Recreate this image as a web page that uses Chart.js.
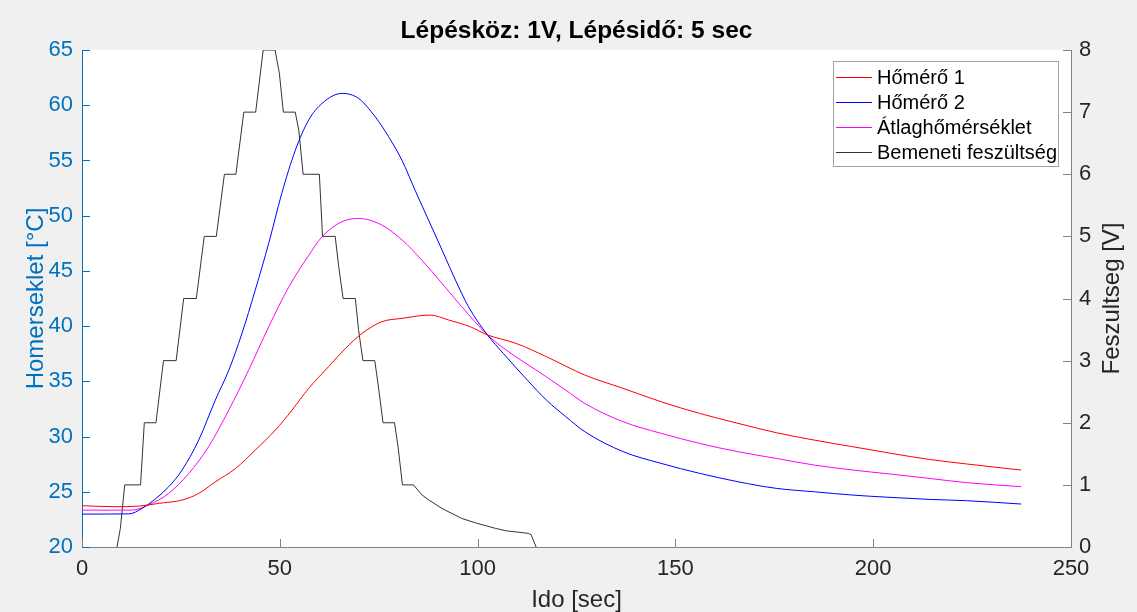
<!DOCTYPE html>
<html lang="hu">
<head>
    <meta charset="UTF-8">
    <title>Lépésköz: 1V, Lépésidő: 5 sec</title>
    <style>
        html, body { margin: 0; padding: 0; background: #f0f0f0; }
        canvas { display: block; }
    </style>
</head>
<body>
    <canvas id="myChart" width="1137" height="612"></canvas>
    <script src="https://cdn.jsdelivr.net/npm/chart.js"></script>
    <script>
        // feliratok
        const cim = 'Lépésköz: 1V, Lépésidő: 5 sec';
        const xCim = 'Ido [sec]';
        const yCim = 'Homerseklet [°C]';
        const y1Cim = 'Feszultseg [V]';

        // tengely osztasok
        const xTicks = [0, 50, 100, 150, 200, 250];
        const yTicks = [20, 25, 30, 35, 40, 45, 50, 55, 60, 65];
        const y1Ticks = [0, 1, 2, 3, 4, 5, 6, 7, 8];

        // Hőmérő 1 (piros)
        const idoH1 = [0, 8.4, 14.3, 19.4, 25.3, 29.5, 33.7, 38.8, 43.8, 48.9, 53.1, 57.3, 62.3, 66.6, 70.8, 75.8, 80.9, 88, 92.7, 98.1, 102.5, 109.7, 117.4, 127.1, 136.8, 146.4, 156.1, 165.8, 175.5, 185.1, 194.8, 204.5, 214.2, 223.8, 233.5, 237.4];
        const homero1 = [23.74, 23.65, 23.7, 23.95, 24.25, 24.85, 25.9, 27.1, 28.78, 30.59, 32.4, 34.36, 36.32, 37.98, 39.34, 40.4, 40.7, 41.0, 40.55, 39.95, 39.2, 38.44, 37.23, 35.57, 34.36, 33.15, 32.1, 31.2, 30.35, 29.68, 29.08, 28.48, 27.93, 27.51, 27.12, 26.97];

        // Hőmérő 2 (kek)
        const idoH2 = [0, 11.8, 15.2, 21.9, 25.3, 29.5, 33.7, 37.1, 40.4, 43.8, 47.2, 50.5, 53.9, 57.3, 60.7, 65.7, 69.9, 74.1, 77.5, 80.9, 84.2, 87.6, 91.0, 94.4, 97.7, 102.5, 106.5, 112.6, 117.4, 122.3, 127.1, 136.8, 146.4, 156.1, 165.8, 175.5, 185.1, 194.8, 204.5, 214.2, 223.8, 237.4];
        const homero2 = [22.98, 23.0, 23.5, 25.45, 26.97, 29.68, 33.3, 36.0, 39.3, 43.27, 47.5, 52.02, 55.9, 58.66, 60.17, 61.07, 60.62, 58.96, 57.15, 55.0, 52.3, 49.6, 46.9, 44.17, 41.75, 39.2, 37.53, 35.1, 33.3, 31.8, 30.44, 28.63, 27.57, 26.67, 25.91, 25.31, 25.0, 24.7, 24.49, 24.31, 24.19, 23.89];

        // Átlaghőmérséklet (magenta)
        const idoAtlag = [0, 12.6, 16.8, 21.9, 27, 32, 37.1, 42.1, 47.2, 52.2, 57.3, 60.7, 65.7, 69.9, 75.8, 80.9, 85.9, 91, 96, 102.5, 106.1, 117.4, 122.3, 127.1, 136.8, 146.4, 156.1, 165.8, 175.5, 185.1, 194.8, 204.5, 214.2, 223.8, 237.4];
        const atlag = [23.34, 23.34, 23.8, 24.85, 26.66, 29.08, 32.4, 36.0, 39.94, 43.5, 46.4, 48.1, 49.45, 49.75, 49.15, 47.8, 45.98, 43.87, 41.75, 39.2, 38.13, 35.4, 34.2, 33.0, 31.34, 30.29, 29.38, 28.63, 28.02, 27.42, 26.97, 26.6, 26.21, 25.82, 25.46];

        // Bemeneti feszültség (fekete, jobb tengely)
        const idoFesz = [8.85, 9.7, 10.8, 14.8, 15.75, 18.7, 20.6, 23.8, 25.7, 28.9, 30.9, 33.95, 36.0, 38.9, 40.9, 43.9, 45.8, 48.8, 49.9, 50.9, 53.9, 54.8, 55.9, 60.0, 60.8, 64.0, 64.9, 66.0, 69.1, 69.9, 71.0, 74.0, 74.8, 76.1, 79.0, 79.9, 81.0, 83.8, 85.9, 87.6, 91.0, 96.0, 99.4, 104.5, 107.3, 112.8, 113.5, 114.8];
        const fesz = [0, 0.3, 1, 1, 2, 2, 3, 3, 4, 4, 5, 5, 6, 6, 7, 7, 8, 8, 7.62, 7, 7, 6.71, 6, 6, 5, 5, 4.51, 4, 4, 3.5, 3, 3, 2.64, 2, 2, 1.61, 1, 1, 0.84, 0.76, 0.62, 0.46, 0.39, 0.30, 0.26, 0.22, 0.2, 0];

        const betu = "'Liberation Sans', Arial, Helvetica, sans-serif";
        const kek = '#0072BD';
        const sotet = '#262626';
        const szurke = '#808080';

        const pontok = (xs, ys) => xs.map((x, i) => ({x: x, y: ys[i]}));

        // feher rajzterulet
        const hatter = {
            id: 'hatter',
            beforeDraw(chart) {
                const {ctx, chartArea: a} = chart;
                ctx.save();
                ctx.fillStyle = '#ffffff';
                ctx.fillRect(a.left, a.top, a.right - a.left, a.bottom - a.top);
                ctx.restore();
            }
        };

        // befele allo osztasvonalak, cim, jobb tengely felirat, jelmagyarazat
        const extrak = {
            id: 'extrak',
            afterDraw(chart) {
                const {ctx, chartArea: a, scales} = chart;
                ctx.save();
                ctx.lineWidth = 1;

                ctx.strokeStyle = kek;
                scales.y.ticks.forEach(t => {
                    const p = Math.round(scales.y.getPixelForValue(t.value)) + 0.5;
                    ctx.beginPath(); ctx.moveTo(a.left, p); ctx.lineTo(a.left + 8, p); ctx.stroke();
                });
                ctx.strokeStyle = szurke;
                scales.y1.ticks.forEach(t => {
                    const p = Math.round(scales.y1.getPixelForValue(t.value)) + 0.5;
                    ctx.beginPath(); ctx.moveTo(a.right - 8, p); ctx.lineTo(a.right, p); ctx.stroke();
                });
                scales.x.ticks.forEach(t => {
                    const p = Math.round(scales.x.getPixelForValue(t.value)) + 0.5;
                    ctx.beginPath(); ctx.moveTo(p, a.bottom); ctx.lineTo(p, a.bottom - 8); ctx.stroke();
                });

                // cim
                ctx.fillStyle = '#000000';
                ctx.font = 'bold 24.5px ' + betu;
                ctx.textAlign = 'center';
                ctx.textBaseline = 'middle';
                ctx.fillText(cim, (a.left + a.right) / 2, 31);

                // jobb tengely felirat (alulrol felfele)
                ctx.save();
                ctx.translate(1112, (a.top + a.bottom) / 2);
                ctx.rotate(-Math.PI / 2);
                ctx.fillStyle = sotet;
                ctx.font = '24px ' + betu;
                ctx.fillText(y1Cim, 0, 0);
                ctx.restore();

                // jelmagyarazat
                const bx = 833, by = 61, bw = 225, bh = 105;
                ctx.fillStyle = '#ffffff';
                ctx.fillRect(bx, by, bw, bh);
                ctx.strokeStyle = '#a0a0a0';
                ctx.strokeRect(bx + 0.5, by + 0.5, bw, bh);
                ctx.font = '20px ' + betu;
                ctx.textAlign = 'left';
                chart.data.datasets.forEach((ds, i) => {
                    const yy = by + 16 + i * 25;
                    ctx.strokeStyle = ds.borderColor;
                    ctx.beginPath(); ctx.moveTo(bx + 3, yy + 0.5); ctx.lineTo(bx + 39, yy + 0.5); ctx.stroke();
                    ctx.fillStyle = '#000000';
                    ctx.fillText(ds.label, bx + 44, yy + 1);
                });
                ctx.restore();
            }
        };

        const ctx = document.querySelector('#myChart');
        const myChart = new Chart(ctx, {
            type: 'line',
            data: {
                datasets: [
                    { label: 'Hőmérő 1', data: pontok(idoH1, homero1), borderColor: '#ff0000', yAxisID: 'y', cubicInterpolationMode: 'monotone' },
                    { label: 'Hőmérő 2', data: pontok(idoH2, homero2), borderColor: '#0000ff', yAxisID: 'y', cubicInterpolationMode: 'monotone' },
                    { label: 'Átlaghőmérséklet', data: pontok(idoAtlag, atlag), borderColor: '#ff00ff', yAxisID: 'y', cubicInterpolationMode: 'monotone' },
                    { label: 'Bemeneti feszültség', data: pontok(idoFesz, fesz), borderColor: '#333333', yAxisID: 'y1' }
                ]
            },
            options: {
                responsive: false,
                animation: false,
                devicePixelRatio: 1,
                elements: {
                    point: { radius: 0 },
                    line: { borderWidth: 1, tension: 0, fill: false }
                },
                layout: { padding: { top: 50, left: 0, right: 0, bottom: 0 } },
                plugins: {
                    legend: { display: false },
                    title: { display: false },
                    tooltip: { enabled: false }
                },
                scales: {
                    x: {
                        type: 'linear',
                        position: 'bottom',
                        min: xTicks[0],
                        max: xTicks[xTicks.length - 1],
                        grid: { display: false, drawTicks: false },
                        border: { display: true, color: szurke, width: 1 },
                        ticks: { stepSize: xTicks[1] - xTicks[0], color: sotet, padding: 9, font: { family: betu, size: 22 }, maxRotation: 0 },
                        title: { display: true, text: xCim, color: sotet, font: { family: betu, size: 24 }, padding: { top: 0, bottom: -3 } },
                        afterFit(s) { s.height = 65; }
                    },
                    y: {
                        position: 'left',
                        min: yTicks[0],
                        max: yTicks[yTicks.length - 1],
                        grid: { display: false, drawTicks: false },
                        border: { display: true, color: kek, width: 1 },
                        ticks: { stepSize: yTicks[1] - yTicks[0], color: kek, padding: 9, font: { family: betu, size: 22 } },
                        title: { display: true, text: yCim, color: kek, font: { family: betu, size: 24 }, padding: { top: 22, bottom: 0 } },
                        afterFit(s) { s.width = 82; }
                    },
                    y1: {
                        position: 'right',
                        min: y1Ticks[0],
                        max: y1Ticks[y1Ticks.length - 1],
                        grid: { display: false, drawTicks: false },
                        border: { display: true, color: szurke, width: 1 },
                        ticks: { stepSize: y1Ticks[1] - y1Ticks[0], color: sotet, padding: 8, font: { family: betu, size: 22 } },
                        afterFit(s) { s.width = 66; }
                    }
                }
            },
            plugins: [hatter, extrak]
        });
    </script>
</body>
</html>
